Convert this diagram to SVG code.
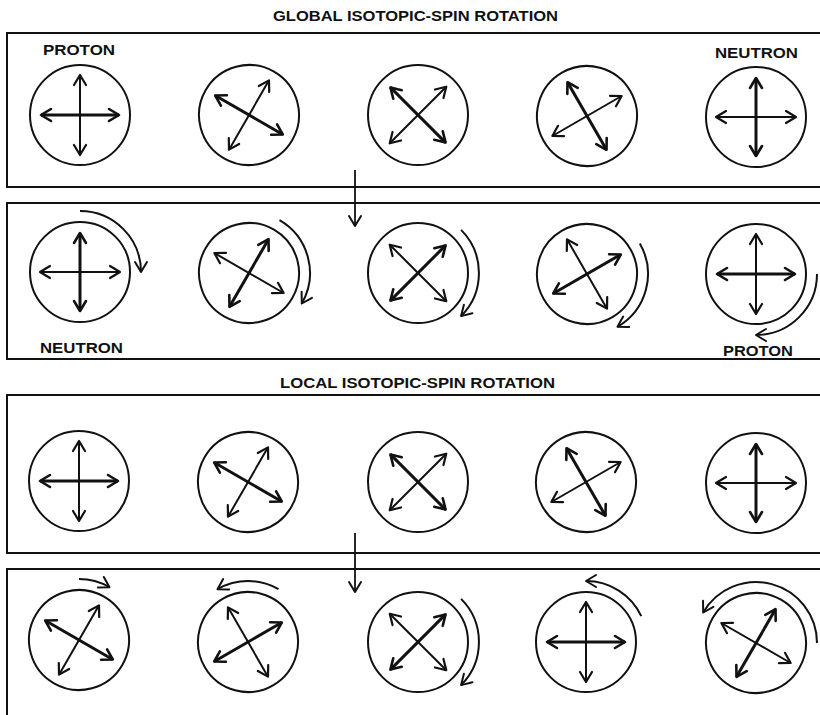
<svg xmlns="http://www.w3.org/2000/svg" xmlns:xlink="http://www.w3.org/1999/xlink" width="820" height="715" viewBox="0 0 820 715">
<style>
.panel{fill:none;stroke:#111;stroke-width:2}
.ring{fill:none;stroke:#111;stroke-width:2}
.thick{stroke:#111;stroke-width:3;fill:none}
.thin{stroke:#111;stroke-width:2;fill:none}
.rot{fill:none;stroke:#111;stroke-width:2;marker-end:url(#hd)}
.conn{stroke:#111;stroke-width:1.8;fill:none;marker-end:url(#hd)}
.title{font-family:"Liberation Sans",Arial,sans-serif;font-weight:bold;font-size:15px;fill:#111}
.lbl{font-family:"Liberation Sans",Arial,sans-serif;font-weight:bold;font-size:15px;fill:#111}
</style>
<defs>
<marker id="hk" markerUnits="userSpaceOnUse" viewBox="-12 -8 14 16" markerWidth="14" markerHeight="16" refX="0" refY="0" orient="auto-start-reverse">
<path d="M-10,-6 L0,0 L-10,6" fill="none" stroke="#111" stroke-width="2.6" stroke-linecap="round" stroke-linejoin="round"/>
</marker>
<marker id="hn" markerUnits="userSpaceOnUse" viewBox="-12 -8 14 16" markerWidth="14" markerHeight="16" refX="0" refY="0" orient="auto-start-reverse">
<path d="M-10,-6 L0,0 L-10,6" fill="none" stroke="#111" stroke-width="2.2" stroke-linecap="round" stroke-linejoin="round"/>
</marker>
<marker id="hd" markerUnits="userSpaceOnUse" viewBox="-12 -8 14 16" markerWidth="14" markerHeight="16" refX="0" refY="0" orient="auto">
<path d="M-10,-6 L0,0 L-10,6" fill="none" stroke="#111" stroke-width="2" stroke-linecap="round" stroke-linejoin="round"/>
</marker>
<g id="spin">
<circle class="ring" cx="0" cy="0" r="50"/>
<line class="thick" x1="-39" y1="0" x2="39" y2="0" marker-start="url(#hk)" marker-end="url(#hk)"/>
<line class="thin" x1="0" y1="-40" x2="0" y2="40" marker-start="url(#hn)" marker-end="url(#hn)"/>
</g>
</defs>
<rect width="820" height="715" fill="#fff"/>

<text class="title" x="273" y="21" textLength="285" lengthAdjust="spacingAndGlyphs">GLOBAL ISOTOPIC-SPIN ROTATION</text>
<text class="title" x="280" y="388" textLength="275" lengthAdjust="spacingAndGlyphs">LOCAL ISOTOPIC-SPIN ROTATION</text>

<g id="panels">
<path class="panel" d="M820,33 H7 V187 H820"/>
<path class="panel" d="M820,203 H7 V359 H820"/>
<path class="panel" d="M820,395 H7 V553 H820"/>
<path class="panel" d="M820,569 H7 V715"/>
</g>

<g id="connectors">
<line class="conn" x1="355" y1="170" x2="355" y2="226"/>
<line class="conn" x1="355" y1="533" x2="355" y2="592"/>
</g>

<g id="global-before">
<g id="g1-1"><use xlink:href="#spin" transform="translate(80,115)"/><text class="lbl" x="43" y="55" textLength="72" lengthAdjust="spacingAndGlyphs">PROTON</text></g>
<g id="g1-2"><use xlink:href="#spin" transform="translate(249,115) rotate(30)"/></g>
<g id="g1-3"><use xlink:href="#spin" transform="translate(418,115) rotate(45)"/></g>
<g id="g1-4"><use xlink:href="#spin" transform="translate(587,116) rotate(60)"/></g>
<g id="g1-5"><use xlink:href="#spin" transform="translate(756,117) rotate(90)"/><text class="lbl" x="715" y="58" textLength="83" lengthAdjust="spacingAndGlyphs">NEUTRON</text></g>
</g>

<g id="global-after">
<g id="g2-1"><use xlink:href="#spin" transform="translate(80,272) rotate(90)"/><path class="rot" d="M80,211 A61,61 0 0 1 141,272"/><text class="lbl" x="40" y="353" textLength="83" lengthAdjust="spacingAndGlyphs">NEUTRON</text></g>
<g id="g2-2"><use xlink:href="#spin" transform="translate(249,273) rotate(120)"/><path class="rot" d="M279.5,220.2 A61,61 0 0 1 301.8,303.5"/></g>
<g id="g2-3"><use xlink:href="#spin" transform="translate(418,273) rotate(135)"/><path class="rot" d="M461.1,229.9 A61,61 0 0 1 461.1,316.1"/></g>
<g id="g2-4"><use xlink:href="#spin" transform="translate(587,274) rotate(150)"/><path class="rot" d="M639.8,243.5 A61,61 0 0 1 617.5,326.8"/></g>
<g id="g2-5"><use xlink:href="#spin" transform="translate(756,274) rotate(180)"/><path class="rot" d="M817,274 A61,61 0 0 1 756,335"/><text class="lbl" x="723" y="356" textLength="70" lengthAdjust="spacingAndGlyphs">PROTON</text></g>
</g>

<g id="local-before">
<g id="l1-1"><use xlink:href="#spin" transform="translate(79,481)"/></g>
<g id="l1-2"><use xlink:href="#spin" transform="translate(248,482) rotate(30)"/></g>
<g id="l1-3"><use xlink:href="#spin" transform="translate(418,482) rotate(45)"/></g>
<g id="l1-4"><use xlink:href="#spin" transform="translate(586,482) rotate(60)"/></g>
<g id="l1-5"><use xlink:href="#spin" transform="translate(756,483) rotate(90)"/></g>
</g>

<g id="local-after">
<g id="l2-1"><use xlink:href="#spin" transform="translate(79,640) rotate(30)"/><path class="rot" d="M79,579 A61,61 0 0 1 109.5,587.2"/></g>
<g id="l2-2"><use xlink:href="#spin" transform="translate(248,642) rotate(-30)"/><path class="rot" d="M278.5,589.2 A61,61 0 0 0 217.5,589.2"/></g>
<g id="l2-3"><use xlink:href="#spin" transform="translate(418,642) rotate(135)"/><path class="rot" d="M461.1,598.9 A61,61 0 0 1 461.1,685.1"/></g>
<g id="l2-4"><use xlink:href="#spin" transform="translate(586,642) rotate(0)"/><path class="rot" d="M641.3,616.2 A61,61 0 0 0 586,581"/></g>
<g id="l2-5"><use xlink:href="#spin" transform="translate(756,643) rotate(120)"/><path class="rot" d="M817,643 A61,61 0 0 0 703.2,612.5"/></g>
</g>
</svg>
